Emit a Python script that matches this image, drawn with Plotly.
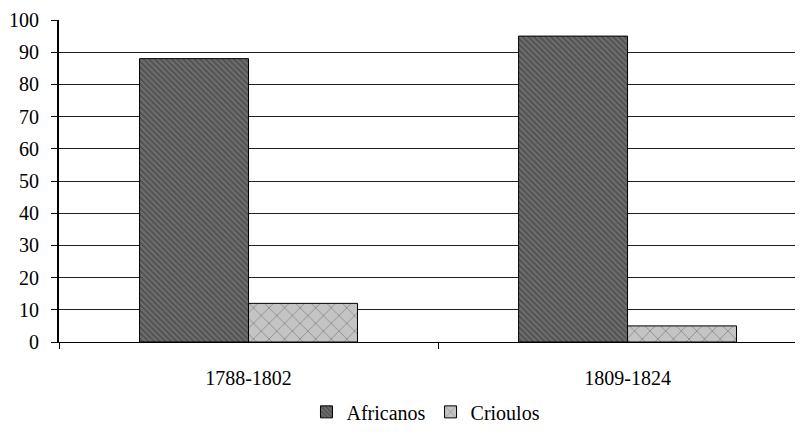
import plotly.graph_objects as go

categories = ["1788-1802", "1809-1824"]
africanos = [88, 95]
crioulos = [12, 5]
y_ticks = [0, 10, 20, 30, 40, 50, 60, 70, 80, 90, 100]

fig = go.Figure()
fig.add_trace(go.Bar(
    name="Africanos", x=categories, y=africanos,
    marker=dict(color="#5a5a5a",
                line=dict(color="#000000", width=1),
                pattern=dict(shape="\\", bgcolor="#6e6e6e", fgcolor="#2e2e2e",
                             size=4, solidity=0.45, fillmode="overlay")),
))
fig.add_trace(go.Bar(
    name="Crioulos", x=categories, y=crioulos,
    marker=dict(color="#c4c4c4",
                line=dict(color="#000000", width=1),
                pattern=dict(shape="x", bgcolor="#c4c4c4", fgcolor="#505050",
                             size=11, solidity=0.15, fillmode="overlay")),
))

font_family = "Liberation Serif, Times New Roman, serif"
fig.update_layout(
    width=803, height=444,
    margin=dict(l=51, r=0, t=12, b=110, autoexpand=False),
    paper_bgcolor="white", plot_bgcolor="white",
    barmode="group", bargap=0.425, bargroupgap=0,
    font=dict(family=font_family, size=20, color="#000000"),
    showlegend=True,
    legend=dict(orientation="h", x=0.488, xanchor="center", y=-0.217, yanchor="middle",
                font=dict(family=font_family, size=20, color="#000000"),
                itemwidth=30, traceorder="normal"),
    xaxis=dict(range=[-0.5, 1.484], showline=True, linecolor="#000000", linewidth=1,
               ticks="outside", tickson="boundaries", ticklen=6, tickcolor="#000000",
               showgrid=False, ticklabelstandoff=18, fixedrange=True, automargin=False),
    yaxis=dict(range=[0, 100], tickvals=y_ticks, showline=True, linecolor="#000000",
               linewidth=2, ticks="outside", ticklen=6, tickcolor="#000000",
               showgrid=True, gridcolor="#222222", gridwidth=1, zeroline=False,
               ticklabelstandoff=8, fixedrange=True, automargin=False),
)

fig.write_html("out.html")
